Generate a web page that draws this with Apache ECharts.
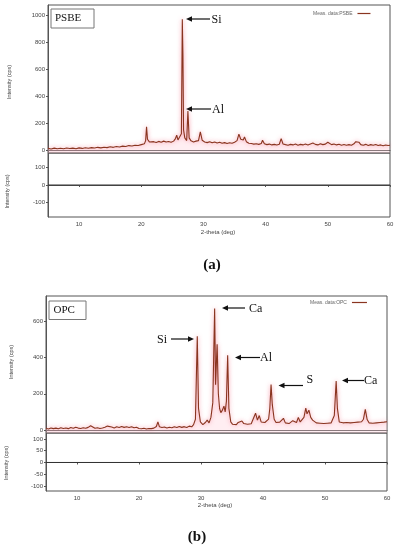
<!DOCTYPE html>
<html>
<head>
<meta charset="utf-8">
<script src="https://cdn.jsdelivr.net/npm/echarts@6/dist/echarts.min.js"></script>
<style>html,body{margin:0;padding:0;background:#fff}#c{width:398px;height:550px}</style>
</head>
<body>
<div id="c"></div>
<script>
// ---- data: [2-theta (deg), intensity (cps)] ----
const psbe = [[5.0,12],[5.5,8],[6.0,14],[6.5,10],[7.0,13],[7.5,9],[8.0,15],[8.5,11],[9.0,14],[9.5,10],[10.0,16],[10.5,12],[11.0,17],[11.5,13],[12.0,18],[12.5,15],[13.0,20],[13.5,16],[14.0,21],[14.5,18],[15.0,24],[15.5,20],[16.0,26],[16.5,23],[17.0,29],[17.5,26],[18.0,33],[18.5,30],[19.0,36],[19.5,34],[20.0,40],[20.5,46],[20.7,70],[20.85,172],[21.0,80],[21.3,60],[21.6,55],[22.0,62],[22.4,56],[22.8,64],[23.2,58],[23.6,66],[24.0,59],[24.4,63],[24.8,57],[25.2,66],[25.5,85],[25.7,110],[25.9,75],[26.2,65],[26.45,120],[26.6,970],[26.7,700],[26.8,150],[27.0,90],[27.3,70],[27.5,290],[27.7,90],[28.0,68],[28.4,60],[28.8,66],[29.2,70],[29.5,135],[29.8,72],[30.2,60],[30.6,55],[31.0,62],[31.4,54],[31.8,60],[32.2,52],[32.6,58],[33.0,50],[33.4,55],[33.8,48],[34.2,54],[34.6,50],[35.0,58],[35.4,70],[35.7,118],[36.0,80],[36.4,75],[36.6,96],[36.9,62],[37.3,50],[37.7,48],[38.1,44],[38.5,46],[38.9,42],[39.3,48],[39.5,72],[39.8,46],[40.2,40],[40.6,44],[41.0,38],[41.4,42],[41.8,37],[42.2,43],[42.5,85],[42.8,45],[43.2,40],[43.6,36],[44.0,42],[44.4,38],[44.8,44],[45.2,36],[45.6,42],[46.0,38],[46.4,44],[46.8,37],[47.2,45],[47.6,52],[48.0,42],[48.4,38],[48.8,46],[49.2,40],[49.6,44],[50.0,58],[50.2,50],[50.6,40],[51.0,45],[51.4,38],[51.8,43],[52.2,36],[52.6,41],[53.0,35],[53.4,40],[53.8,36],[54.2,46],[54.5,62],[54.8,48],[55.0,58],[55.3,40],[55.7,36],[56.1,42],[56.5,34],[56.9,40],[57.3,35],[57.7,41],[58.1,33],[58.5,38],[58.9,32],[59.3,37],[59.7,33],[60.0,36]];

const opc = [[5.0,10],[5.4,6],[5.8,12],[6.2,8],[6.6,11],[7.0,7],[7.4,13],[7.8,9],[8.2,12],[8.6,8],[9.0,14],[9.4,10],[9.8,16],[10.2,11],[10.6,9],[11.0,13],[11.4,10],[11.8,15],[12.2,24],[12.5,14],[12.9,10],[13.3,13],[13.7,9],[14.1,12],[14.5,16],[14.9,22],[15.2,13],[15.6,17],[16.0,12],[16.4,18],[16.8,14],[17.2,20],[17.6,15],[18.0,18],[18.4,14],[18.8,19],[19.2,13],[19.6,16],[20.0,9],[20.4,7],[20.8,10],[21.2,6],[21.6,9],[22.0,8],[22.4,11],[22.8,20],[23.05,45],[23.3,18],[23.7,14],[24.1,17],[24.5,12],[24.9,16],[25.3,13],[25.7,18],[26.1,14],[26.5,20],[26.9,15],[27.3,19],[27.7,14],[28.1,22],[28.5,18],[28.8,30],[29.1,60],[29.4,517],[29.6,120],[29.9,45],[30.3,30],[30.7,42],[31.0,55],[31.3,40],[31.6,70],[31.9,150],[32.2,670],[32.35,250],[32.6,473],[32.8,200],[33.0,119],[33.2,96],[33.45,110],[33.7,132],[33.9,100],[34.1,160],[34.3,413],[34.5,120],[34.8,45],[35.1,32],[35.4,38],[35.7,30],[36.0,42],[36.3,34],[36.6,50],[36.9,36],[37.2,44],[37.5,32],[37.8,40],[38.1,35],[38.4,45],[38.8,93],[39.1,55],[39.4,80],[39.7,45],[40.0,38],[40.3,42],[40.6,36],[40.9,60],[41.1,120],[41.3,251],[41.5,140],[41.8,60],[42.1,42],[42.4,36],[42.7,44],[43.0,40],[43.3,65],[43.6,40],[43.9,50],[44.2,36],[44.5,44],[44.8,52],[45.1,60],[45.4,42],[45.7,70],[46.0,45],[46.3,52],[46.6,70],[46.9,121],[47.1,90],[47.4,110],[47.7,70],[48.0,55],[48.3,44],[48.6,40],[48.9,45],[49.2,38],[49.5,44],[49.8,36],[50.1,42],[50.4,38],[50.7,44],[51.0,40],[51.3,46],[51.5,80],[51.8,271],[52.0,120],[52.3,45],[52.6,36],[52.9,40],[53.2,34],[53.5,42],[53.8,36],[54.1,40],[54.4,35],[54.7,42],[55.0,38],[55.3,44],[55.6,40],[55.9,46],[56.2,60],[56.5,114],[56.8,58],[57.1,40],[57.4,44],[57.7,38],[58.0,46],[58.3,40],[58.6,48],[58.9,42],[59.2,50],[59.5,44],[59.8,52],[60.0,46]];

const residualA = [[5,0],[60,0]];
const residualB = [[5,0],[60,0]];

const xTicks = [10,20,30,40,50,60];
const yTicksAUpper = [0,200,400,600,800,1000];
const yTicksALower = [-100,0,100];
const yTicksBUpper = [0,200,400,600];
const yTicksBLower = [-100,-50,0,50,100];

const nameA = 'Meas. data:PSBE';
const nameB = 'Meas. data:OPC';

// ---- chart ----
const chart = echarts.init(document.getElementById('c'), null, {renderer:'canvas'});
const GRAY = '#555';
const tickFont = {fontSize:6, color:'#444', fontFamily:'Liberation Sans', formatter:function(v){return String(v);}};

function xAx(grid, showLabels){
  return {type:'value', gridIndex:grid, min:5, max:60,
    axisLine:{show:true, lineStyle:{color:GRAY, width:1}},
    axisTick:{show:showLabels, customValues:xTicks, length:2, lineStyle:{color:GRAY}},
    axisLabel:{show:showLabels, customValues:xTicks, margin:4, ...tickFont},
    splitLine:{show:false}};
}
function yAx(grid, min, max, ticks){
  return {type:'value', gridIndex:grid, min:min, max:max,
    axisLine:{show:true, lineStyle:{color:GRAY, width:1}},
    axisTick:{show:true, customValues:ticks, length:2, lineStyle:{color:GRAY}},
    axisLabel:{customValues:ticks, margin:3, ...tickFont},
    splitLine:{show:false}};
}
const lineColor = '#8a3520';
function meas(name, data, xi, yi){
  return {type:'line', name:name, data:data, xAxisIndex:xi, yAxisIndex:yi,
    showSymbol:false, symbol:'none', silent:true,
    lineStyle:{color:lineColor, width:1.1, shadowColor:'rgba(240,60,90,0.6)', shadowBlur:4},
    itemStyle:{color:lineColor},
    areaStyle:{color:'rgba(255,200,215,0.45)', origin:'start'}};
}
function resid(data, xi, yi){
  return {type:'line', data:data, xAxisIndex:xi, yAxisIndex:yi, showSymbol:false, symbol:'none', silent:true,
    lineStyle:{color:'#333', width:1}};
}
function arrowG(xTail, y, xHead){
  const dir = xHead < xTail ? 1 : -1;
  return [
    {type:'line', shape:{x1:xTail, y1:y, x2:xHead + dir*4, y2:y}, style:{stroke:'#111', lineWidth:1.2}},
    {type:'polygon', shape:{points:[[xHead,y],[xHead+dir*6,y-2.8],[xHead+dir*6,y+2.8]]}, style:{fill:'#111'}}
  ];
}
function label(text, x, y, size, opts){
  return Object.assign({type:'text', x:x, y:y, style:{text:text, font:(size||12)+'px "Liberation Serif"', fill:'#111', textVerticalAlign:'middle'}}, opts||{});
}
function vtitle(text, x, y){
  return {type:'text', x:x, y:y, rotation:Math.PI/2, style:{text:text, font:'5.5px "Liberation Sans"', fill:'#444', textAlign:'center', textVerticalAlign:'middle'}};
}
function htitle(text, x, y){
  return {type:'text', x:x, y:y, style:{text:text, font:'6px "Liberation Sans"', fill:'#444', textAlign:'center', textVerticalAlign:'middle'}};
}

const graphics = [
  {type:'rect', shape:{x:51, y:9, width:43, height:19}, style:{fill:'#fff', stroke:'#777', lineWidth:1}},
  label('PSBE', 55, 18.5, 11),
  {type:'rect', shape:{x:49, y:301, width:37, height:18.5}, style:{fill:'#fff', stroke:'#777', lineWidth:1}},
  label('OPC', 53.5, 310, 11),
  ...arrowG(210, 19, 186), label('Si', 211.5, 19.5, 12),
  ...arrowG(211, 109, 186), label('Al', 212, 109.5, 12),
  label('Si', 157, 339.5, 12), ...arrowG(171, 339, 194),
  ...arrowG(245, 308, 222), label('Ca', 249, 308.5, 12),
  ...arrowG(260, 357.5, 235), label('Al', 260, 358, 12),
  ...arrowG(303, 385.5, 278.5), label('S', 306.5, 379.5, 12),
  ...arrowG(364, 380.5, 342), label('Ca', 364, 381, 12),
  vtitle('Intensity (cps)', 9.5, 82), vtitle('Intensity (cps)', 7, 191.5),
  vtitle('Intensity (cps)', 11.5, 362), vtitle('Intensity (cps)', 6.5, 463),
  htitle('2-theta (deg)', 218, 232), htitle('2-theta (deg)', 215, 505.5),
  {type:'text', x:212, y:265, style:{text:'(a)', font:'bold 15px "Liberation Serif"', fill:'#111', textAlign:'center', textVerticalAlign:'middle'}},
  {type:'text', x:197, y:537, style:{text:'(b)', font:'bold 15px "Liberation Serif"', fill:'#111', textAlign:'center', textVerticalAlign:'middle'}}
];

chart.setOption({
  animation:false,
  grid:[
    {left:48, width:342, top:5, height:148, show:true, borderColor:GRAY, borderWidth:1},
    {left:48, width:342, top:153, height:64, show:true, borderColor:GRAY, borderWidth:1},
    {left:46, width:341, top:296, height:137, show:true, borderColor:GRAY, borderWidth:1},
    {left:46, width:341, top:433, height:58, show:true, borderColor:GRAY, borderWidth:1}
  ],
  xAxis:[xAx(0,false), xAx(1,true), xAx(2,false), xAx(3,true)],
  yAxis:[yAx(0,-22,1075,yTicksAUpper), yAx(1,-181,181,yTicksALower), yAx(2,-16,739,yTicksBUpper), yAx(3,-121,125,yTicksBLower)],
  legend:[
    {data:[nameA], left:313, top:11, align:'right', icon:'rect', itemWidth:13, itemHeight:1.2, itemGap:0, padding:0,
     textStyle:{fontSize:5, color:'#666', fontFamily:'Liberation Sans'}},
    {data:[nameB], left:310, top:300, align:'right', icon:'rect', itemWidth:15, itemHeight:1.2, itemGap:0, padding:0,
     textStyle:{fontSize:5, color:'#666', fontFamily:'Liberation Sans'}}
  ],
  series:[
    meas(nameA, psbe, 0, 0),
    resid(residualA, 1, 1),
    meas(nameB, opc, 2, 2),
    resid(residualB, 3, 3)
  ],
  graphic:graphics
});
</script>
</body>
</html>
